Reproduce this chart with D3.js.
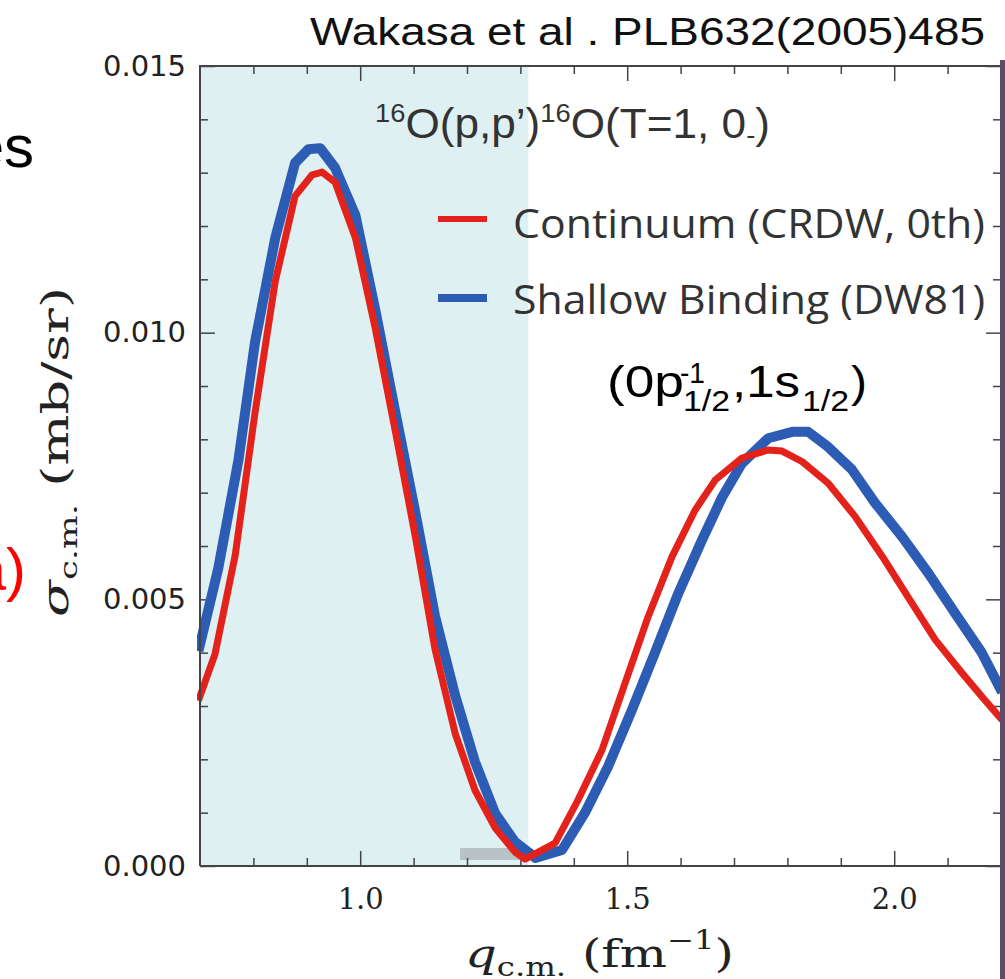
<!DOCTYPE html>
<html>
<meta charset="utf-8">
<head>
<title>16O(p,p') cross section</title>
<style>
body { margin: 0; background: #fff; }
svg { display: block; }
.tick line { stroke: #444; stroke-width: 1.5px; }
.axis path { display: none; }
.ylab text { font-family: "DejaVu Sans", sans-serif; font-size: 29px; fill: #222; }
.xlab text { font-family: "DejaVu Serif", serif; font-size: 29px; fill: #222; }
</style>
</head>
<body>
<script src="https://cdnjs.cloudflare.com/ajax/libs/d3/7.8.5/d3.min.js"></script>
<script>

// Continuum (CRDW, 0th) - red
var qRed = [0.697, 0.728, 0.766, 0.803, 0.841, 0.878, 0.910, 0.929, 0.953, 0.991,
            1.028, 1.066, 1.103, 1.140, 1.178, 1.215, 1.253, 1.290, 1.309, 1.322,
            1.365, 1.408, 1.453, 1.496, 1.539, 1.584, 1.627, 1.665, 1.715, 1.764,
            1.790, 1.828, 1.876, 1.927, 1.978, 2.026, 2.077, 2.127, 2.170, 2.202];
var sigRed = [0.00310, 0.00397, 0.00583, 0.00850, 0.01097, 0.01256, 0.01296, 0.01301, 0.01282, 0.01178,
              0.01009, 0.00814, 0.00619, 0.00407, 0.00248, 0.00142, 0.00071, 0.00026, 0.00013, 0.00020,
              0.00043, 0.00124, 0.00218, 0.00343, 0.00467, 0.00580, 0.00667, 0.00724, 0.00765, 0.00780,
              0.00778, 0.00758, 0.00718, 0.00655, 0.00580, 0.00504, 0.00424, 0.00362, 0.00311, 0.00274];

// Shallow Binding (DW81) - blue
var qBlue = [0.697, 0.734, 0.772, 0.803, 0.841, 0.878, 0.903, 0.925, 0.953, 0.991,
             1.028, 1.066, 1.103, 1.140, 1.178, 1.215, 1.253, 1.290, 1.315, 1.328,
             1.378, 1.421, 1.464, 1.509, 1.552, 1.596, 1.640, 1.678, 1.715, 1.764,
             1.809, 1.839, 1.876, 1.921, 1.964, 2.015, 2.064, 2.114, 2.164, 2.202];
var sigBlue = [0.00403, 0.00557, 0.00761, 0.00982, 0.01178, 0.01318, 0.01344, 0.01346, 0.01309, 0.01220,
               0.01044, 0.00850, 0.00664, 0.00469, 0.00319, 0.00195, 0.00098, 0.00045, 0.00026, 0.00015,
               0.00030, 0.00100, 0.00186, 0.00293, 0.00400, 0.00512, 0.00611, 0.00692, 0.00755, 0.00802,
               0.00814, 0.00814, 0.00786, 0.00743, 0.00681, 0.00617, 0.00549, 0.00474, 0.00400, 0.00326];

var xMajor = [1.0, 1.5, 2.0];
var xMinor = [0.8, 0.9, 1.1, 1.2, 1.3, 1.4, 1.6, 1.7, 1.8, 1.9, 2.1];
var yMajor = [0.000, 0.005, 0.010, 0.015];
var yMinor = [0.001, 0.002, 0.003, 0.004, 0.006, 0.007, 0.008, 0.009, 0.011, 0.012, 0.013, 0.014];
var shadeRange = [0.7, 1.315];   // highlighted q region

var W = 1005, H = 979;
// note: "top" is reserved on window, so use a box object
var box = {left: 200, right: 1001, top: 66, bottom: 866};

var svg = d3.select("body").append("svg")
    .attr("width", W)
    .attr("height", H);

var x = d3.scaleLinear().domain([0.7, 2.2]).range([box.left, box.right]);
var y = d3.scaleLinear().domain([0, 0.015]).range([box.bottom, box.top]);

// shaded region
svg.append("rect")
    .attr("x", x(shadeRange[0]))
    .attr("y", box.top)
    .attr("width", x(shadeRange[1]) - x(shadeRange[0]))
    .attr("height", box.bottom - box.top)
    .style("fill", "#def0f1");

// small grey patch near the minimum
svg.append("rect")
    .attr("x", 460).attr("y", 848)
    .attr("width", 66).attr("height", 12)
    .style("fill", "#b9c2c6");

// ticks, all pointing inward
svg.append("g").attr("class", "axis xlab")
    .attr("transform", "translate(0," + box.bottom + ")")
    .call(d3.axisBottom(x).tickValues(xMajor).tickSize(-15).tickSizeOuter(0)
      .tickPadding(22).tickFormat(d3.format(".1f")));
svg.append("g").attr("class", "axis")
    .attr("transform", "translate(0," + box.bottom + ")")
    .call(d3.axisBottom(x).tickValues(xMinor).tickSize(-8).tickSizeOuter(0).tickFormat(""));
svg.append("g").attr("class", "axis")
    .attr("transform", "translate(0," + box.top + ")")
    .call(d3.axisTop(x).tickValues(xMajor).tickSize(-15).tickSizeOuter(0).tickFormat(""));
svg.append("g").attr("class", "axis")
    .attr("transform", "translate(0," + box.top + ")")
    .call(d3.axisTop(x).tickValues(xMinor).tickSize(-8).tickSizeOuter(0).tickFormat(""));

svg.append("g").attr("class", "axis ylab")
    .attr("transform", "translate(" + box.left + ",0)")
    .call(d3.axisLeft(y).tickValues(yMajor).tickSize(-15).tickSizeOuter(0)
      .tickPadding(14).tickFormat(d3.format(".3f")));
svg.append("g").attr("class", "axis")
    .attr("transform", "translate(" + box.left + ",0)")
    .call(d3.axisLeft(y).tickValues(yMinor).tickSize(-8).tickSizeOuter(0).tickFormat(""));
svg.append("g").attr("class", "axis")
    .attr("transform", "translate(" + box.right + ",0)")
    .call(d3.axisRight(y).tickValues(yMajor).tickSize(-15).tickSizeOuter(0).tickFormat(""));
svg.append("g").attr("class", "axis")
    .attr("transform", "translate(" + box.right + ",0)")
    .call(d3.axisRight(y).tickValues(yMinor).tickSize(-8).tickSizeOuter(0).tickFormat(""));

// curves
svg.append("clipPath").attr("id", "plotClip")
  .append("rect")
    .attr("x", box.left - 3).attr("y", box.top)
    .attr("width", box.right - box.left + 3).attr("height", box.bottom - box.top + 4);

var line = d3.line()
    .x(function(d) { return x(d[0]); })
    .y(function(d) { return y(d[1]); });

var red = d3.zip(qRed, sigRed);
var blue = d3.zip(qBlue, sigBlue);

var curves = svg.append("g").attr("clip-path", "url(#plotClip)");
curves.append("path")
    .datum(blue)
    .attr("d", line)
    .style("fill", "none")
    .style("stroke", "#2c5cb4")
    .style("stroke-width", 10)
    .style("stroke-linejoin", "round");
curves.append("path")
    .datum(red)
    .attr("d", line)
    .style("fill", "none")
    .style("stroke", "#e3231b")
    .style("stroke-width", 7)
    .style("stroke-linejoin", "round");

// frame
svg.append("path")
    .attr("d", "M" + box.left + "," + box.bottom + "V" + box.top + "H" + box.right + "V" + box.bottom + "H" + box.left)
    .style("fill", "none")
    .style("stroke", "#444")
    .style("stroke-width", 2);

// slide edge on the right
svg.append("rect")
    .attr("x", 1000).attr("y", 60)
    .attr("width", 5).attr("height", H - 60)
    .style("fill", "#5a4d6b");

// legend
var legend = [
  {name: "Continuum (CRDW, 0th)", color: "#e3231b", w: 6, y: 219, base: 238},
  {name: "Shallow Binding (DW81)", color: "#2c5cb4", w: 8, y: 298, base: 314}
];
legend.forEach(function(d) {
  svg.append("line")
      .attr("x1", 438).attr("x2", 487)
      .attr("y1", d.y).attr("y2", d.y)
      .style("stroke", d.color)
      .style("stroke-width", d.w);
  svg.append("text")
      .attr("x", 513).attr("y", d.base)
      .attr("textLength", 472)
      .attr("lengthAdjust", "spacingAndGlyphs")
      .style("font-family", "'Open Sans', sans-serif")
      .style("font-size", "40px")
      .style("fill", "#333")
      .text(d.name);
});

// title
svg.append("text")
    .attr("x", 310).attr("y", 45)
    .attr("textLength", 675)
    .attr("lengthAdjust", "spacingAndGlyphs")
    .style("font-family", "'Liberation Sans', Arial, sans-serif")
    .style("font-size", "38px")
    .style("fill", "#111")
    .text("Wakasa et al . PLB632(2005)485");

// reaction label
var react = svg.append("text")
    .attr("x", 375).attr("y", 138)
    .attr("textLength", 395)
    .attr("lengthAdjust", "spacingAndGlyphs")
    .style("font-family", "'Liberation Sans', Arial, sans-serif")
    .style("font-size", "42px")
    .style("fill", "#333");
react.append("tspan").attr("dy", -16).style("font-size", "26px").text("16");
react.append("tspan").attr("dy", 16).text("O(p,p’)");
react.append("tspan").attr("dy", -16).style("font-size", "26px").text("16");
react.append("tspan").attr("dy", 16).text("O(T=1, 0");
react.append("tspan").attr("dy", 6).style("font-size", "26px").text("-");
react.append("tspan").attr("dy", -6).text(")");

// configuration label
var cfgParts = [
  {t: "(0p", x: 607, y: 397, size: 44, len: 77},
  {t: "-1",  x: 680, y: 383, size: 30, len: 25},
  {t: "1/2", x: 683, y: 411, size: 30, len: 47},
  {t: ",1s", x: 732, y: 397, size: 44, len: 68},
  {t: "1/2", x: 802, y: 411, size: 30, len: 47},
  {t: ")",   x: 851, y: 397, size: 44, len: 16}
];
svg.append("g")
    .style("font-family", "'Liberation Sans', Arial, sans-serif")
    .style("fill", "#000")
  .selectAll("text")
  .data(cfgParts).enter()
  .append("text")
    .attr("x", function(d) { return d.x; })
    .attr("y", function(d) { return d.y; })
    .attr("textLength", function(d) { return d.len; })
    .attr("lengthAdjust", "spacingAndGlyphs")
    .style("font-size", function(d) { return d.size + "px"; })
    .text(function(d) { return d.t; });

// axis titles
var xt = svg.append("text")
    .attr("x", 465).attr("y", 967)
    .attr("textLength", 269)
    .attr("lengthAdjust", "spacingAndGlyphs")
    .style("font-family", "'DejaVu Serif', serif")
    .style("font-size", "40px")
    .style("fill", "#222");
xt.append("tspan").style("font-style", "italic").text("q");
xt.append("tspan").attr("dy", 9).style("font-size", "26px").text("c.m.");
xt.append("tspan").attr("dy", -9).text("  (fm");
xt.append("tspan").attr("dy", -18).style("font-size", "26px").text("−1");
xt.append("tspan").attr("dy", 18).text(")");

var yt = svg.append("text")
    .attr("transform", "translate(68,617) rotate(-90)")
    .attr("x", 0).attr("y", 0)
    .attr("textLength", 330)
    .attr("lengthAdjust", "spacingAndGlyphs")
    .style("font-family", "'DejaVu Serif', serif")
    .style("font-size", "38px")
    .style("fill", "#222");
yt.append("tspan").style("font-style", "italic").text("σ");
yt.append("tspan").attr("dy", 9).style("font-size", "25px").text("c.m.");
yt.append("tspan").attr("dy", -9).text("  (mb/sr)");

// slide fragments at the left edge
svg.append("text")
    .attr("x", 34).attr("y", 167)
    .style("text-anchor", "end")
    .style("font-family", "'Liberation Sans', Arial, sans-serif")
    .style("font-size", "60px")
    .style("fill", "#000")
    .text("es");
svg.append("text")
    .attr("x", 26).attr("y", 590)
    .style("text-anchor", "end")
    .style("font-family", "'Liberation Sans', Arial, sans-serif")
    .style("font-size", "60px")
    .style("fill", "#ff0000")
    .text("a)");

</script>
</body>
</html>
